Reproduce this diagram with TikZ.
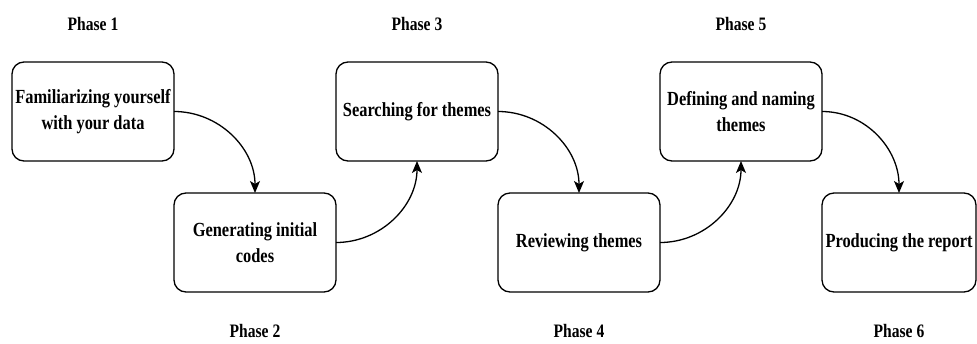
\documentclass[tikz,border=0pt]{standalone}
\usepackage{fontspec}
\setmainfont{Liberation Serif}[FakeStretch=0.82]
\usetikzlibrary{arrows.meta,positioning}

\begin{document}
\begin{tikzpicture}[-{Stealth[length=12pt,width=10pt,inset=3pt]},x=1pt,y=1pt,node distance=32pt and 0pt,
    fase/.style={draw,line width=1.3pt,rounded corners=12pt,minimum width=162pt,
        minimum height=99pt,align=center,inner sep=2pt,outer sep=0pt,
        font=\fontsize{20}{26}\selectfont\bfseries},
    etichetta/.style={font=\fontsize{19}{22}\selectfont\bfseries,inner sep=0pt}]
        \useasboundingbox (0,0) rectangle (977,-343);
        % riquadri
        \node[fase] (A) at (93,-111.5) {Familiarizing yourself\\with your data};
        \node[fase] (B) [below right=of A.south east,anchor=north west] {Generating initial\\codes};
        \node[fase] (C) [above right=of B.north east,anchor=south west] {Searching for themes};
        \node[fase] (D) [below right=of C.south east,anchor=north west] {Reviewing themes};
        \node[fase] (E) [above right=of D.north east,anchor=south west] {Defining and naming\\themes};
        \node[fase,minimum width=154pt] (F) [below right=of E.south east,anchor=north west] {Producing the report};
        % etichette
        \node[etichetta] (LA) [above=31pt of A] {Phase 1};
        \node[etichetta] (LB) [below=32pt of B] {Phase 2};
        \node[etichetta] (LC) [above=31pt of C] {Phase 3};
        \node[etichetta] (LD) [below=32pt of D] {Phase 4};
        \node[etichetta] (LE) [above=31pt of E] {Phase 5};
        \node[etichetta] (LF) [below=32pt of F] {Phase 6};
        % archi
        \path[line width=1.3pt]
            (A.east) edge[out=0,in=90]  (B.north)
            (B.east) edge[out=0,in=-90] (C.south)
            (C.east) edge[out=0,in=90]  (D.north)
            (D.east) edge[out=0,in=-90] (E.south)
            (E.east) edge[out=0,in=90]  (F.north);
        \end{tikzpicture}
\end{document}
